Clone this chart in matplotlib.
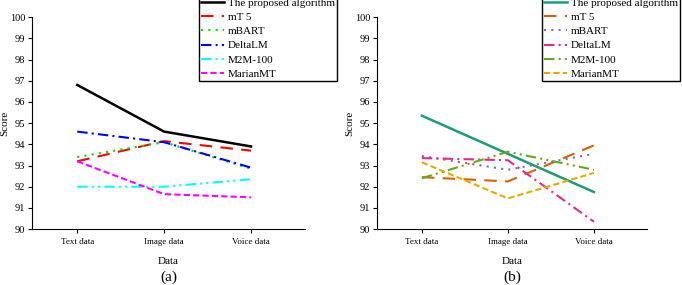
"""Score comparison across data types for the two experiments (a) and (b)."""

import matplotlib.pyplot as plt

plt.rcParams['font.family'] = ['Liberation Serif', 'DejaVu Serif']

categories = ['Text data', 'Image data', 'Voice data']
models = ['The proposed algorithm', 'mT5', 'mBART', 'DeltaLM', 'M2M-100', 'MarianMT']
legend_labels = ['The proposed algorithm', 'mT 5', 'mBART', 'DeltaLM', 'M2M-100', 'MarianMT']

# panel (a)
scores_a = {
    'The proposed algorithm': [96.8, 94.6, 93.9],
    'mT5': [93.2, 94.15, 93.7],
    'mBART': [93.4, 94.1, 92.85],
    'DeltaLM': [94.6, 94.1, 92.9],
    'M2M-100': [92.0, 92.0, 92.35],
    'MarianMT': [93.2, 91.65, 91.5],
}

# panel (b)
scores_b = {
    'The proposed algorithm': [95.35, 93.55, 91.75],
    'mT5': [92.45, 92.25, 93.95],
    'mBART': [93.45, 92.8, 93.55],
    'DeltaLM': [93.35, 93.25, 90.35],
    'M2M-100': [92.4, 93.65, 92.8],
    'MarianMT': [93.15, 91.45, 92.65],
}

colors_a = ['black', '#ff0000', '#00e000', '#0000ff', '#00ffff', '#ff00ff']
colors_b = ['#1b9e77', '#d95f02', '#7570b3', '#e7298a', '#66a61e', '#e6ab02']
dashes = [
    (None, None),
    (6, 4),
    (1, 2.5),
    (5, 2, 1, 2),
    (5, 2, 1, 2, 1, 2),
    (3, 1.5),
]

fig = plt.figure(figsize=(6.82, 2.85), dpi=100)
ax_a = fig.add_axes([0.047, 0.196, 0.4, 0.744])
ax_b = fig.add_axes([0.553, 0.196, 0.396, 0.744])

panels = [
    (ax_a, scores_a, colors_a, '(a)', 337 / 682),
    (ax_b, scores_b, colors_b, '(b)', 680 / 682),
]

x = list(range(len(categories)))
for ax, scores, colors, tag, leg_right in panels:
    handles = []
    for m, lab, c, d in zip(models, legend_labels, colors, dashes):
        lw = 1.8 if d[0] is None else 1.5
        line, = ax.plot(x, scores[m], color=c, linewidth=lw, label=lab)
        if d[0] is not None:
            line.set_dashes(d)
        handles.append(line)

    ax.set_ylim(90, 100)
    ax.set_yticks(range(90, 101))
    ax.set_xlim(-0.52, 2.62)
    ax.set_xticks(x)
    ax.set_xticklabels(categories)
    ax.spines['top'].set_visible(False)
    ax.spines['right'].set_visible(False)
    ax.spines['left'].set_linewidth(0.8)
    ax.spines['bottom'].set_linewidth(0.8)
    ax.tick_params(length=3, width=0.8, direction='out')
    ax.tick_params(axis='x', labelsize=6.5)
    ax.tick_params(axis='y', labelsize=7.5, pad=2)
    ax.set_xlabel('Data', fontsize=8)
    ax.xaxis.set_label_coords(0.5, -0.13)
    ax.set_ylabel('Score', fontsize=8)
    ax.yaxis.set_label_coords(-0.085, 0.5)
    ax.text(0.5, -0.225, tag, transform=ax.transAxes, ha='center', va='center', fontsize=11)

    fig.legend(handles=handles, loc='upper right', bbox_to_anchor=(leg_right, 1.015),
               fontsize=8, frameon=True, fancybox=False, edgecolor='black',
               framealpha=1, handlelength=2.1, handletextpad=0.3,
               labelspacing=0.4, borderpad=0.2, borderaxespad=0)

fig.savefig('out.png', dpi=100)
